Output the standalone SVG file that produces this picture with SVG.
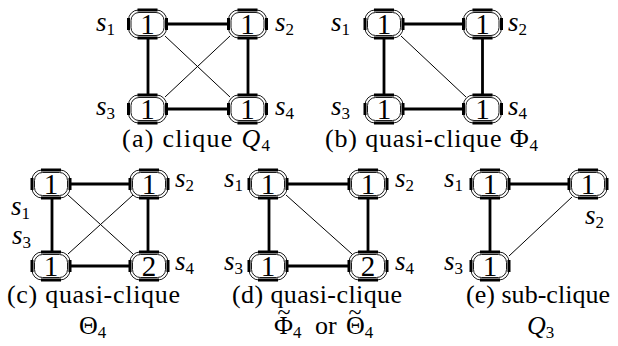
<svg xmlns="http://www.w3.org/2000/svg" xmlns:xlink="http://www.w3.org/1999/xlink" width="618" height="346" viewBox="0 0 618 346">
<style>
  text { font-family: "Liberation Serif", "DejaVu Serif", "Times New Roman", serif; fill: #000; }
  .cap { font-size: 26px; }
  .num { font-size: 29px; text-anchor: middle; }
  .lab { font-size: 27px; font-style: italic; }
  .it { font-style: italic; }
  .sub { font-size: 17px; font-style: normal; }
  .tl { font-size: 24px; text-anchor: middle; }
  .thick { stroke: #000; stroke-width: 2.8; fill: none; }
  .thin { stroke: #000; stroke-width: 1; fill: none; }
  .ring { fill: #fff; stroke: #000; stroke-width: 0.9; }
  .ring2 { fill: none; stroke: #000; stroke-width: 0.9; }
  .bar { stroke: #000; stroke-width: 3; fill: none; }
</style>
<defs>
  <g id="nodeShape">
    <rect class="ring" x="-19" y="-14" width="38" height="28" rx="10" ry="10"/>
    <rect class="ring2" x="-16.5" y="-11.5" width="33" height="23" rx="8" ry="8"/>
    <path class="bar" d="M-10,-14 H10 M-10,14 H10 M-19,-6 V6 M19,-6 V6"/>
  </g>
</defs>

<g id="connectors">
  <!-- (a) -->
  <path class="thick" d="M166,24 H229 M148,38 V95 M248,38 V95 M166,109 H229"/>
  <path class="thin" d="M165,36 L230,97 M230,36 L165,97"/>
  <!-- (b) -->
  <path class="thick" d="M403,24 H464 M384,38 V95 M482.5,38 V95 M403,109 H464"/>
  <path class="thin" d="M401,36 L466,97"/>
  <!-- (c) -->
  <path class="thick" d="M70,184 H130 M52,198 V252 M148,198 V252 M70,266 H130"/>
  <path class="thin" d="M68,195 L133,254 M133,195 L68,254"/>
  <!-- (d) -->
  <path class="thick" d="M287,184 H349 M269,198 V252 M368,198 V252 M287,266 H349"/>
  <path class="thin" d="M286,195 L352,254"/>
  <!-- (e) -->
  <path class="thick" d="M509,184 H569 M490,198 V252"/>
  <path class="thin" d="M572,197 L509,256"/>
</g>

<!-- panel (a) -->
<g id="a-s1"><use xlink:href="#nodeShape" x="147.5" y="24"/><text class="num" x="147.5" y="34">1</text></g>
<g id="a-s2"><use xlink:href="#nodeShape" x="247.5" y="24"/><text class="num" x="247.5" y="34">1</text></g>
<g id="a-s3"><use xlink:href="#nodeShape" x="147.5" y="109"/><text class="num" x="147.5" y="119">1</text></g>
<g id="a-s4"><use xlink:href="#nodeShape" x="247.5" y="109"/><text class="num" x="247.5" y="119">1</text></g>
<g id="a-labels">
  <text class="lab" x="96" y="31">s<tspan class="sub" dy="4">1</tspan></text>
  <text class="lab" x="275" y="31">s<tspan class="sub" dy="4">2</tspan></text>
  <text class="lab" x="96" y="115">s<tspan class="sub" dy="4">3</tspan></text>
  <text class="lab" x="275" y="115">s<tspan class="sub" dy="4">4</tspan></text>
  <text class="cap" x="122" y="147" textLength="148" lengthAdjust="spacing">(a) clique <tspan class="it">Q</tspan><tspan class="sub" dy="4">4</tspan></text>
</g>

<!-- panel (b) -->
<g id="b-s1"><use xlink:href="#nodeShape" x="384" y="24"/><text class="num" x="384" y="34">1</text></g>
<g id="b-s2"><use xlink:href="#nodeShape" x="482.5" y="24"/><text class="num" x="482.5" y="34">1</text></g>
<g id="b-s3"><use xlink:href="#nodeShape" x="384" y="109"/><text class="num" x="384" y="119">1</text></g>
<g id="b-s4"><use xlink:href="#nodeShape" x="482.5" y="109"/><text class="num" x="482.5" y="119">1</text></g>
<g id="b-labels">
  <text class="lab" x="331" y="31">s<tspan class="sub" dy="4">1</tspan></text>
  <text class="lab" x="508" y="31">s<tspan class="sub" dy="4">2</tspan></text>
  <text class="lab" x="331" y="115">s<tspan class="sub" dy="4">3</tspan></text>
  <text class="lab" x="508" y="115">s<tspan class="sub" dy="4">4</tspan></text>
  <text class="cap" x="325" y="147" textLength="213" lengthAdjust="spacing">(b) quasi-clique Φ<tspan class="sub" dy="4">4</tspan></text>
</g>

<!-- panel (c) -->
<g id="c-s1"><use xlink:href="#nodeShape" x="51" y="184"/><text class="num" x="51" y="194">1</text></g>
<g id="c-s2"><use xlink:href="#nodeShape" x="149" y="184"/><text class="num" x="149" y="194">1</text></g>
<g id="c-s3"><use xlink:href="#nodeShape" x="51" y="266"/><text class="num" x="51" y="276">1</text></g>
<g id="c-s4"><use xlink:href="#nodeShape" x="149" y="266"/><text class="num" x="149" y="276">2</text></g>
<g id="c-labels">
  <text class="lab" x="11" y="215">s<tspan class="sub" dy="4">1</tspan></text>
  <text class="lab" x="175" y="187">s<tspan class="sub" dy="4">2</tspan></text>
  <text class="lab" x="12" y="244">s<tspan class="sub" dy="4">3</tspan></text>
  <text class="lab" x="175" y="270">s<tspan class="sub" dy="4">4</tspan></text>
  <text class="cap" x="7" y="303" textLength="173" lengthAdjust="spacing">(c) quasi-clique</text>
  <text class="cap" x="79" y="334">Θ<tspan class="sub" dy="4">4</tspan></text>
</g>

<!-- panel (d) -->
<g id="d-s1"><use xlink:href="#nodeShape" x="268" y="184"/><text class="num" x="268" y="194">1</text></g>
<g id="d-s2"><use xlink:href="#nodeShape" x="368" y="184"/><text class="num" x="368" y="194">1</text></g>
<g id="d-s3"><use xlink:href="#nodeShape" x="268" y="266"/><text class="num" x="268" y="276">1</text></g>
<g id="d-s4"><use xlink:href="#nodeShape" x="368" y="266"/><text class="num" x="368" y="276">2</text></g>
<g id="d-labels">
  <text class="lab" x="224" y="187">s<tspan class="sub" dy="4">1</tspan></text>
  <text class="lab" x="395" y="187">s<tspan class="sub" dy="4">2</tspan></text>
  <text class="lab" x="224" y="270">s<tspan class="sub" dy="4">3</tspan></text>
  <text class="lab" x="395" y="270">s<tspan class="sub" dy="4">4</tspan></text>
  <text class="cap" x="232" y="303" textLength="170" lengthAdjust="spacing">(d) quasi-clique</text>
  <text class="cap" x="274" y="334">Φ<tspan class="sub" dy="4">4</tspan><tspan x="315" dy="-4">or</tspan><tspan x="346">Θ</tspan><tspan class="sub" dy="4">4</tspan></text>
  <text class="tl" x="284" y="320">~</text>
  <text class="tl" x="355" y="320">~</text>
</g>

<!-- panel (e) -->
<g id="e-s1"><use xlink:href="#nodeShape" x="490" y="184"/><text class="num" x="490" y="194">1</text></g>
<g id="e-s2"><use xlink:href="#nodeShape" x="588" y="184"/><text class="num" x="588" y="194">1</text></g>
<g id="e-s3"><use xlink:href="#nodeShape" x="490" y="266"/><text class="num" x="490" y="276">1</text></g>
<g id="e-labels">
  <text class="lab" x="444" y="187">s<tspan class="sub" dy="4">1</tspan></text>
  <text class="lab" x="585" y="224">s<tspan class="sub" dy="4">2</tspan></text>
  <text class="lab" x="444" y="270">s<tspan class="sub" dy="4">3</tspan></text>
  <text class="cap" x="466" y="303" textLength="144" lengthAdjust="spacing">(e) sub-clique</text>
  <text class="cap" x="527" y="334"><tspan class="it">Q</tspan><tspan class="sub" dy="4">3</tspan></text>
</g>
</svg>
